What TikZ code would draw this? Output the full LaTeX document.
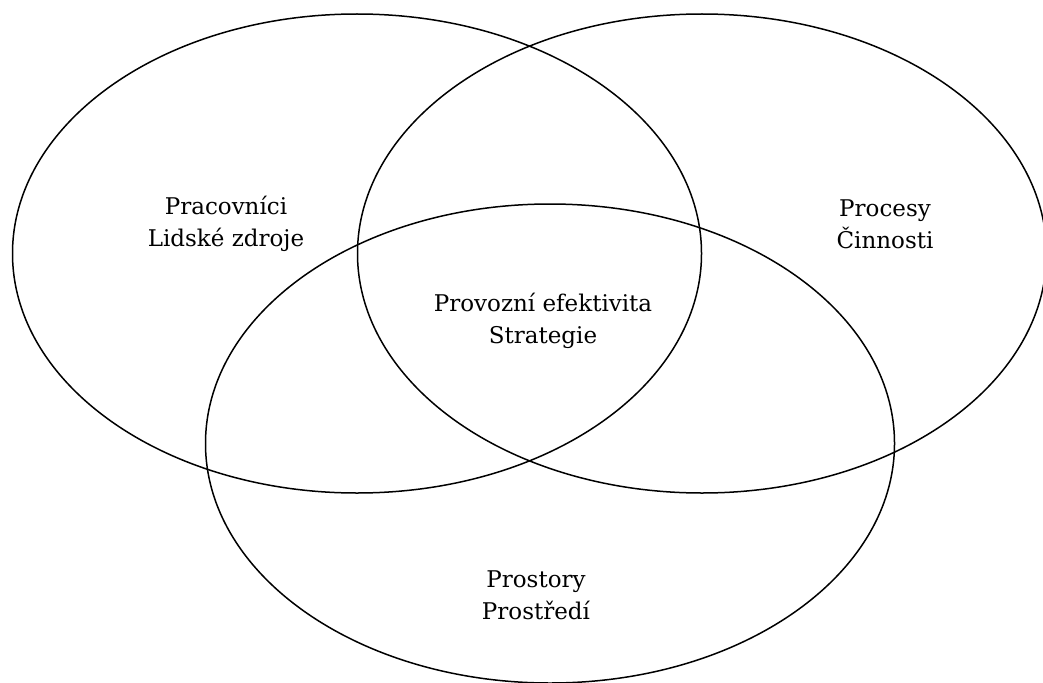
\documentclass[tikz,border=0pt]{standalone}
\usepackage{fontspec}
\setmainfont{DejaVu Serif}
\usetikzlibrary{positioning, shapes.geometric}

\begin{document}
\begin{tikzpicture}[
    x=1pt, y=-1pt,
    area/.style={
        ellipse,
        draw=black,
        line width=1.5pt,
        minimum width=689pt,
        minimum height=479pt,
        inner sep=0pt
    },
    label/.style={align=center, font=\fontsize{23}{32}\selectfont}
]

\useasboundingbox (0, 0) rectangle (1043, 682);
\clip (0, 0) rectangle (1043, 682);

% Three overlapping areas
\node[area] (people) at (357, 253.5) {};
\node[area] (process) at (702, 253.5) {};
\node[area] (space) at (550, 443.5) {};

% Labels
\node[label] (peopletext) at (226, 224) {Pracovníci\\Lidské zdroje};
\node[label] (processtext) at (885, 224) {Procesy\\Činnosti};
\node[label] (coretext) at (543, 321) {Provozní efektivita\\Strategie};
\node[label] (spacetext) at (536, 595) {Prostory\\Prostředí};

\end{tikzpicture}
\end{document}
